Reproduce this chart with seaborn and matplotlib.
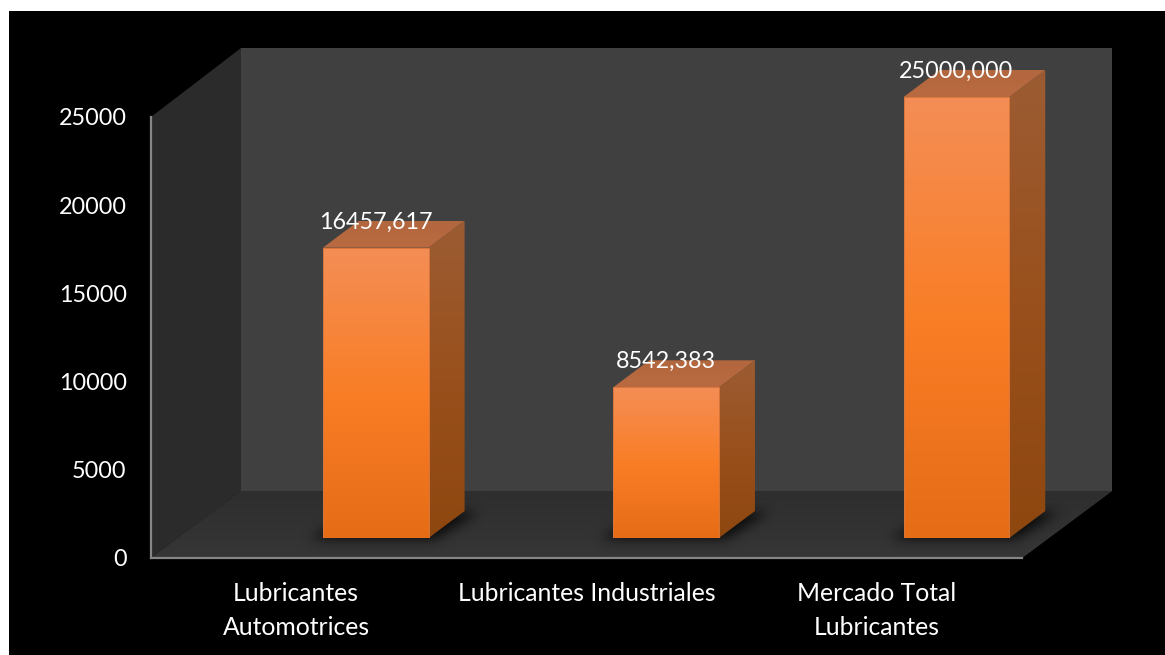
import numpy as np
import matplotlib
matplotlib.use("Agg")
import matplotlib.pyplot as plt
from matplotlib.colors import LinearSegmentedColormap
from matplotlib.patches import Polygon, Rectangle
from matplotlib.path import Path
from matplotlib.transforms import ScaledTranslation
import seaborn as sns

# Market volumes per segment
categories = ["Lubricantes\nAutomotrices", "Lubricantes Industriales", "Mercado Total\nLubricantes"]
values = [16457.617, 8542.383, 25000.000]
y_ticks = [0, 5000, 10000, 15000, 20000, 25000]

W, H = 1165, 655
sns.set_theme(style="white")
plt.rcParams["font.family"] = ["Lato", "DejaVu Sans"]
NUMBER_SIZE = 16.8
LABEL_SIZE = 17.8
Y_MAX = 25000


def axes_box(left, top, right, bottom):
    """Axes rectangle given in pixels measured from the top-left corner."""
    return [left / W, 1 - bottom / H, (right - left) / W, (bottom - top) / H]


fig = plt.figure(figsize=(W / 100, H / 100), dpi=100, facecolor="white")

# Backdrop layer in pixel units: black panel, walls and floor of the 3D box
bg = fig.add_axes([0, 0, 1, 1])
bg.set_xlim(0, W)
bg.set_ylim(H, 0)
bg.axis("off")
bg.add_patch(Rectangle((9, 11), W - 9, H - 11, fc="black", ec="none", zorder=0))
bg.add_patch(Polygon([(241, 48), (1112, 48), (1112, 491), (241, 491)], fc="#404040", ec="none", zorder=1))
bg.add_patch(Polygon([(151, 117), (241, 48), (241, 491), (151, 558)], fc="#2B2B2B", ec="none", zorder=1))
floor = Polygon([(151, 558), (241, 491), (1112, 491), (1022, 558)], fc="#333333", ec="none", zorder=1)
bg.add_patch(floor)
floor_shade = bg.imshow(np.linspace(0.0, 1.0, 64)[:, None], extent=(151, 1112, 558, 491), aspect="auto",
                        cmap=LinearSegmentedColormap.from_list("floor", ["#2E2E2E", "#363636"]), zorder=1.5)
floor_shade.set_clip_path(floor)
bg.set_xlim(0, W)
bg.set_ylim(H, 0)

# Value axis and category axis, sitting on the front edge of the box
ax = fig.add_axes(axes_box(151, 117, 1022, 558))
ax.patch.set_alpha(0)
ax.set_xlim(-0.5, 2.5)
ax.set_ylim(0, Y_MAX)
ax.set_yticks(y_ticks)
ax.set_xticks(range(len(categories)))
ax.set_xticklabels(categories, color="white", fontsize=LABEL_SIZE, linespacing=1.56)
ax.set_yticklabels([str(t) for t in y_ticks], color="white", fontsize=NUMBER_SIZE)
nudge_down = ScaledTranslation(0, -1 / 100, fig.dpi_scale_trans)
for label in ax.get_yticklabels():
    label.set_transform(label.get_transform() + nudge_down)
ax.tick_params(axis="x", length=0, pad=17.5)
ax.tick_params(axis="y", length=0, pad=17.5)
for side, spine in ax.spines.items():
    spine.set_visible(side in ("left", "bottom"))
    spine.set_color("#868686")
    spine.set_linewidth(1.6)

# Bars live on a plane pushed into the box, so their axes are shifted;
# the scale runs past the top tick to leave room for the extruded top face
BAR_TOP_PX, BAR_BASE_PX, HEADROOM_PX = 97, 538, 30
px_per_unit = (BAR_BASE_PX - BAR_TOP_PX) / Y_MAX
bars_ymax = (BAR_BASE_PX - BAR_TOP_PX + HEADROOM_PX) / px_per_unit
bars_ax = fig.add_axes(axes_box(230.6, BAR_TOP_PX - HEADROOM_PX, 1101.6, BAR_BASE_PX))
bars_ax.patch.set_alpha(0)
sns.barplot(x=list(range(len(values))), y=values, native_scale=True, width=0.364, color="#F97F27",
            ax=bars_ax, legend=False, saturation=1)
bars_ax.set_xlim(-0.5, 2.5)
bars_ax.set_ylim(0, bars_ymax)
bars_ax.axis("off")

# Depth of the extruded bars, in pixels on screen
DEPTH_X_PX, DEPTH_Y_PX = 36, 27
dx = DEPTH_X_PX / (871 / 3)
dy = DEPTH_Y_PX / px_per_unit

front_cmap = LinearSegmentedColormap.from_list("front", ["#E66C16", "#F97E26", "#F48E56"])
side_cmap = LinearSegmentedColormap.from_list("side", ["#8F4710", "#99501C", "#9C5C33"])
top_cmap = LinearSegmentedColormap.from_list("top", ["#B96A40", "#B3673E"])
ramp = np.linspace(0, 1, 128)[:, None]

fig.canvas.draw()
to_px = bars_ax.transData
shadow_mask = np.zeros((H, W))
yy, xx = np.mgrid[0:H, 0:W]
grid = np.column_stack([xx.ravel() + 0.5, yy.ravel() + 0.5])

for bar, value in zip(list(bars_ax.patches), values):
    x0, x1 = bar.get_x(), bar.get_x() + bar.get_width()
    centre = (x0 + x1) / 2

    grad = bars_ax.imshow(ramp, extent=(x0, x1, 0, value), origin="lower", aspect="auto", cmap=front_cmap, zorder=3)
    grad.set_clip_path(bar)
    bar.set_facecolor("none")
    bar.set_edgecolor("#D8763C")
    bar.set_linewidth(0.7)
    bar.set_zorder(4)

    side = Polygon([(x1, 0), (x1 + dx, dy), (x1 + dx, value + dy), (x1, value)], fc="none", ec="none", zorder=2)
    bars_ax.add_patch(side)
    side_grad = bars_ax.imshow(ramp, extent=(x1, x1 + dx, 0, value + dy), origin="lower", aspect="auto",
                               cmap=side_cmap, zorder=2)
    side_grad.set_clip_path(side)

    top = Polygon([(x0, value), (x1, value), (x1 + dx, value + dy), (x0 + dx, value + dy)], fc="none", ec="none", zorder=2)
    bars_ax.add_patch(top)
    top_grad = bars_ax.imshow(ramp, extent=(x0, x1 + dx, value, value + dy), origin="lower", aspect="auto",
                              cmap=top_cmap, zorder=2)
    top_grad.set_clip_path(top)

    bars_ax.annotate(f"{value:.3f}".replace(".", ","), xy=(centre, value), xytext=(0, 18.6),
                     textcoords="offset points", ha="center", va="center", color="white",
                     fontsize=NUMBER_SIZE, zorder=6, annotation_clip=False)

    # Footprint used for the soft contact shadow on the floor
    (px0, pby), (px1, _) = to_px.transform([(x0, 0), (x1, 0)])
    pby = H - pby
    outline = Path([(px0 - 14, pby + 1), (px1 + 6, pby + 1), (px1 + DEPTH_X_PX + 14, pby - DEPTH_Y_PX + 1),
                    (px0 + DEPTH_X_PX, pby - DEPTH_Y_PX + 1)])
    shadow_mask[outline.contains_points(grid).reshape(H, W)] = 1.0

bars_ax.set_xlim(-0.5, 2.5)
bars_ax.set_ylim(0, bars_ymax)

# Separable gaussian blur of the shadow footprints
sigma = 6.0
radius = int(3 * sigma)
kernel = np.exp(-0.5 * (np.arange(-radius, radius + 1) / sigma) ** 2)
kernel /= kernel.sum()
blurred = np.apply_along_axis(lambda r: np.convolve(r, kernel, mode="same"), 1, shadow_mask)
blurred = np.apply_along_axis(lambda c: np.convolve(c, kernel, mode="same"), 0, blurred)
shadow_rgba = np.zeros((H, W, 4))
shadow_rgba[..., 3] = np.clip(blurred, 0, 1) * 0.8
bg.imshow(shadow_rgba, extent=(0, W, H, 0), aspect="auto", zorder=2)
bg.set_xlim(0, W)
bg.set_ylim(H, 0)

fig.savefig("out.png", dpi=100)
